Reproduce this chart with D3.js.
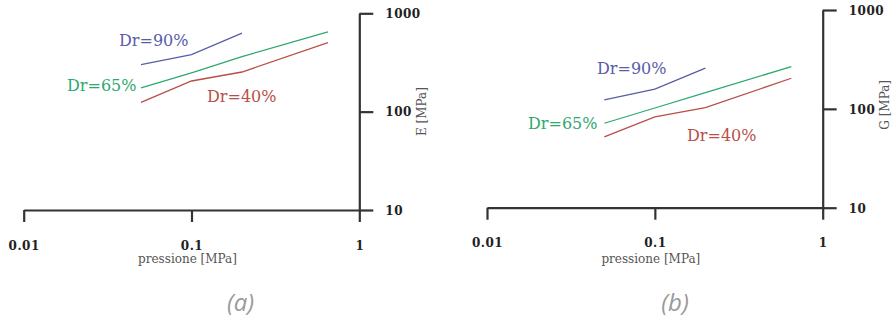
<!DOCTYPE html>
<html><head><meta charset="utf-8">
<script src="https://cdn.jsdelivr.net/npm/d3@7"></script>
<style>
html,body{margin:0;padding:0;background:#fff;}
svg{display:block;}
.tick text{font-family:"DejaVu Serif",serif;font-weight:bold;font-size:12px;fill:#222;letter-spacing:0.5px;}
.domain,.tick line{stroke:#333;stroke-width:2.2px;}
</style></head>
<body>
<svg id="c" width="894" height="320"></svg>
<script>
// ---- data ----
const xTicks = [0.01, 0.1, 1];
const yTicks = [10, 100, 1000];
const xTickLabels = ["0.01", "0.1", "1"];
const yTickLabels = ["10", "100", "1000"];
const pressure = [0.05, 0.1, 0.2, 0.65];
const seriesNames = ["Dr=90%", "Dr=65%", "Dr=40%"];
// panel (a): E [MPa]
const E90 = [300, 380, 630];
const E65 = [174, 248, 363, 647];
const E40 = [124, 205, 253, 504];
// panel (b): G [MPa]
const G90 = [123, 158, 258];
const G65 = [71.5, 102, 146, 267];
const G40 = [52, 83, 103, 204];
const panelTitles = ["(a)", "(b)"];
const yLabels = ["E [MPa]", "G [MPa]"];
const xLabel = "pressione [MPa]";

const colors = ["#5a5ca8", "#2fa86f", "#b84f48"];

const svg = d3.select("#c");

const panels = [
  { x0: 23.7, x1: 359.3, yb: 210, yt: 13.3, series: [E90, E65, E40],
    labelPos: [[119, 46], [67, 91], [207, 102]], title: [240.5, 311], ylab: yLabels[0], yLabDy: 0 },
  { x0: 487, x1: 822.7, yb: 207.7, yt: 10, series: [G90, G65, G40],
    labelPos: [[597, 74], [528, 129], [687, 141]], title: [675, 311], ylab: yLabels[1], yLabDy: -4 }
];

panels.forEach((p, pi) => {
  const x = d3.scaleLog().domain([0.01, 1]).range([p.x0, p.x1]);
  const y = d3.scaleLog().domain([10, 1000]).range([p.yb, p.yt]);
  const g = svg.append("g");

  // x axis
  g.append("g").attr("transform", `translate(0,${p.yb})`)
    .call(d3.axisBottom(x).tickValues(xTicks).tickFormat((d, i) => xTickLabels[i])
      .tickSizeInner(12).tickSizeOuter(0).tickPadding(19))
    .call(a => a.selectAll(".tick text").attr("dy", "0.71em"));

  // y axis
  g.append("g").attr("transform", `translate(${p.x1},0)`)
    .call(d3.axisRight(y).tickValues(yTicks).tickFormat((d, i) => yTickLabels[i])
      .tickSizeInner(14).tickSizeOuter(0).tickPadding(12))
    .call(a => a.selectAll(".tick text").attr("dy", "0.36em"));

  // x label
  g.append("text").attr("x", x(0.1) - 4).attr("y", 263)
    .attr("text-anchor", "middle")
    .style("font-family", "'DejaVu Serif',serif").style("font-size", "12px").style("fill", "#555")
    .text(xLabel);

  // y label
  const ly = y(100) + p.yLabDy;
  g.append("text").attr("transform", `translate(${p.x1 + 62},${ly}) rotate(-90)`)
    .attr("text-anchor", "middle").attr("dy", "0.35em")
    .style("font-family", "'DejaVu Serif',serif").style("font-size", "12px").style("fill", "#555")
    .text(p.ylab);

  // lines
  const line = d3.line().x(d => x(d[0])).y(d => y(d[1]));
  p.series.forEach((s, si) => {
    const pts = s.map((v, i) => [pressure[i], v]);
    g.append("path").datum(pts).attr("d", line)
      .attr("fill", "none").attr("stroke", colors[si]).attr("stroke-width", 1.3);
    g.append("text").attr("x", p.labelPos[si][0]).attr("y", p.labelPos[si][1])
      .style("font-family", "'DejaVu Serif',serif").style("font-size", "16px")
      .style("fill", colors[si]).text(seriesNames[si]);
  });

  // panel title
  svg.append("text").attr("x", p.title[0]).attr("y", p.title[1])
    .attr("text-anchor", "middle")
    .style("font-family", "'Open Sans',sans-serif").style("font-style", "italic")
    .style("font-weight", "400").style("font-size", "24px").style("fill", "#9a9a9a")
    .text(panelTitles[pi]);
});
</script>
</body></html>
